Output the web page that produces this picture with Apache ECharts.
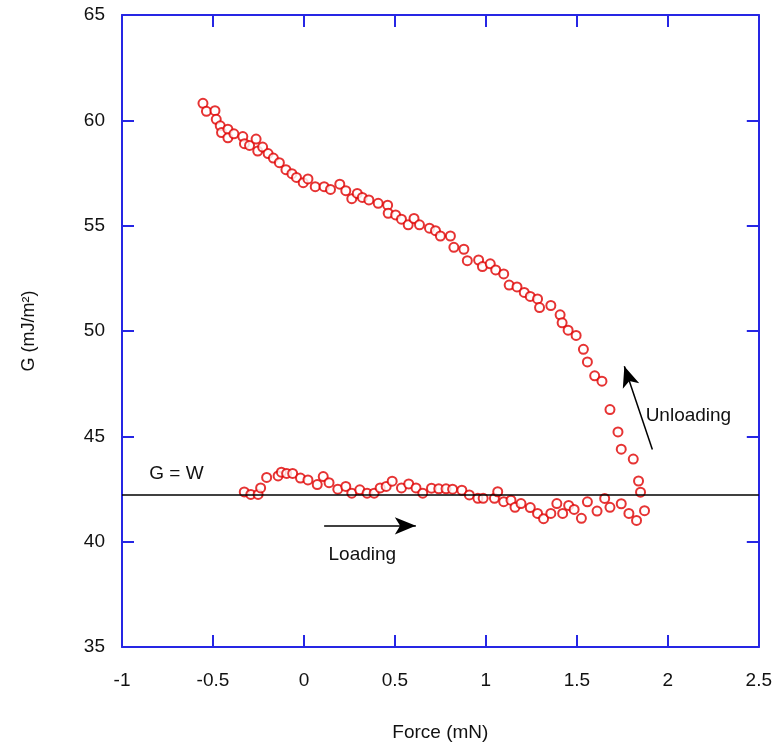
<!DOCTYPE html>
<html>
<head>
<meta charset="utf-8">
<script src="https://cdn.jsdelivr.net/npm/echarts@6/dist/echarts.min.js"></script>
<style>
  html, body { margin: 0; padding: 0; background: #fff; }
  #chart { width: 775px; height: 747px; }
</style>
</head>
<body>
<div id="chart"></div>
<script>
// loading branch (lower points)
const loadingForce = [-0.328, -0.292, -0.252, -0.238, -0.205, -0.142, -0.124, -0.095, -0.062, -0.019,
  0.022, 0.073, 0.106, 0.138, 0.186, 0.230, 0.263, 0.307, 0.347, 0.386,
  0.419, 0.452, 0.485, 0.536, 0.576, 0.616, 0.653, 0.701, 0.741, 0.781,
  0.817, 0.868, 0.909, 0.956, 0.985, 1.047, 1.065, 1.098, 1.138, 1.160,
  1.193, 1.244, 1.284, 1.317, 1.357, 1.390, 1.422, 1.455, 1.485, 1.525,
  1.558, 1.611, 1.653, 1.682, 1.744, 1.786, 1.828];
const loadingG = [42.36, 42.24, 42.24, 42.55, 43.05, 43.12, 43.30, 43.24, 43.24, 43.02,
  42.93, 42.71, 43.09, 42.80, 42.49, 42.62, 42.30, 42.46, 42.30, 42.30,
  42.55, 42.62, 42.87, 42.55, 42.74, 42.55, 42.30, 42.54, 42.51, 42.51,
  42.49, 42.44, 42.22, 42.06, 42.06, 42.06, 42.37, 41.90, 41.97, 41.63,
  41.81, 41.62, 41.34, 41.09, 41.34, 41.81, 41.34, 41.72, 41.53, 41.11,
  41.89, 41.45, 42.05, 41.63, 41.80, 41.34, 41.01];

// unloading branch (upper points)
const unloadingForce = [-0.555, -0.536, -0.489, -0.482, -0.460, -0.453, -0.418, -0.418, -0.385, -0.336,
  -0.327, -0.299, -0.263, -0.254, -0.227, -0.197, -0.168, -0.135, -0.099, -0.066,
  -0.041, -0.004, 0.022, 0.062, 0.111, 0.146, 0.197, 0.230, 0.263, 0.293,
  0.321, 0.357, 0.408, 0.460, 0.463, 0.504, 0.536, 0.573, 0.605, 0.635,
  0.690, 0.723, 0.750, 0.805, 0.824, 0.879, 0.898, 0.960, 0.981, 1.024,
  1.054, 1.098, 1.128, 1.171, 1.211, 1.244, 1.284, 1.295, 1.357, 1.408,
  1.419, 1.452, 1.496, 1.536, 1.558, 1.598, 1.638, 1.682, 1.726, 1.744,
  1.810, 1.839, 1.850, 1.872];
const unloadingG = [60.81, 60.43, 60.46, 60.05, 59.74, 59.42, 59.58, 59.17, 59.36, 59.23,
  58.89, 58.81, 59.11, 58.54, 58.73, 58.42, 58.21, 57.99, 57.66, 57.47,
  57.29, 57.04, 57.22, 56.85, 56.85, 56.72, 56.97, 56.66, 56.28, 56.53,
  56.34, 56.22, 56.06, 55.97, 55.59, 55.51, 55.31, 55.04, 55.34, 55.04,
  54.88, 54.76, 54.51, 54.51, 53.97, 53.88, 53.34, 53.37, 53.06, 53.19,
  52.90, 52.71, 52.18, 52.09, 51.83, 51.64, 51.52, 51.11, 51.21, 50.77,
  50.39, 50.04, 49.79, 49.13, 48.53, 47.87, 47.62, 46.27, 45.21, 44.39,
  43.92, 42.88, 42.35, 41.47];

const workOfAdhesion = 42.25;                       // G = W level
const loadingArrow = [[0.111, 40.75], [0.615, 40.75]];
const unloadingArrow = [[1.915, 44.37], [1.761, 48.33]];

const blue = '#2626e4';
const red = '#e00000';
const font = 'Liberation Sans, Arial, sans-serif';

const zip = (xs, ys) => xs.map((x, i) => [x, ys[i]]);

const chart = echarts.init(document.getElementById('chart'));

const frameAxis = {
  axisLine: { show: true, onZero: false, lineStyle: { color: blue, width: 2 } },
  axisTick: { show: true, inside: true, length: 12, lineStyle: { color: blue, width: 2 } },
  splitLine: { show: false }
};

const option = {
  animation: false,
  backgroundColor: '#fff',
  grid: { left: 122, right: 14, top: 15, bottom: 95.5 },
  xAxis: [
    {
      type: 'value', min: -1, max: 2.5, interval: 0.5, position: 'bottom',
      name: 'Force (mN)', nameLocation: 'middle', nameGap: 76,
      nameTextStyle: { fontFamily: font, fontSize: 19, color: '#111' },
      axisLabel: { margin: 24, fontFamily: font, fontSize: 19, color: '#111' },
      ...frameAxis
    },
    {
      type: 'value', min: -1, max: 2.5, interval: 0.5, position: 'top',
      axisLabel: { show: false },
      ...frameAxis
    }
  ],
  yAxis: [
    {
      type: 'value', min: 35, max: 65, interval: 5, position: 'left',
      name: 'G (mJ/m²)', nameLocation: 'middle', nameGap: 84, nameRotate: 90,
      nameTextStyle: { fontFamily: font, fontSize: 18, color: '#111' },
      axisLabel: { margin: 17, fontFamily: font, fontSize: 19, color: '#111' },
      ...frameAxis
    },
    {
      type: 'value', min: 35, max: 65, interval: 5, position: 'right',
      axisLabel: { show: false },
      ...frameAxis
    }
  ],
  series: [
    {
      name: 'Loading',
      type: 'scatter',
      symbol: 'emptyCircle',
      symbolSize: 9,
      itemStyle: { color: red, borderColor: red, borderWidth: 2.2 },
      data: zip(loadingForce, loadingG),
      z: 3,
      markLine: {
        silent: true,
        symbol: ['none', 'none'],
        label: { show: false },
        lineStyle: { color: '#000', width: 1.5, type: 'solid' },
        data: [{ yAxis: workOfAdhesion }]
      }
    },
    {
      name: 'Unloading',
      type: 'scatter',
      symbol: 'emptyCircle',
      symbolSize: 9,
      itemStyle: { color: red, borderColor: red, borderWidth: 2.2 },
      data: zip(unloadingForce, unloadingG),
      z: 3,
      markLine: {
        silent: true,
        symbol: ['none', 'arrow'],
        symbolSize: [13, 21],
        label: { show: false },
        lineStyle: { color: '#000', width: 1.5, type: 'solid' },
        data: [
          [{ coord: loadingArrow[0] }, { coord: loadingArrow[1] }],
          [{ coord: unloadingArrow[0] }, { coord: unloadingArrow[1] }]
        ]
      }
    }
  ]
};

chart.setOption(option);

// text annotations, placed from data coordinates
const txt = (pos, text, align) => {
  const p = chart.convertToPixel({ xAxisIndex: 0, yAxisIndex: 0 }, pos);
  return {
    type: 'text', x: p[0], y: p[1],
    style: { text, fill: '#111', font: '19px ' + font, textAlign: align, textVerticalAlign: 'middle' }
  };
};

chart.setOption({
  graphic: [
    txt([-0.85, 43.2], 'G = W', 'left'),
    txt([0.135, 39.4], 'Loading', 'left'),
    txt([1.878, 46.0], 'Unloading', 'left')
  ]
});
</script>
</body>
</html>
